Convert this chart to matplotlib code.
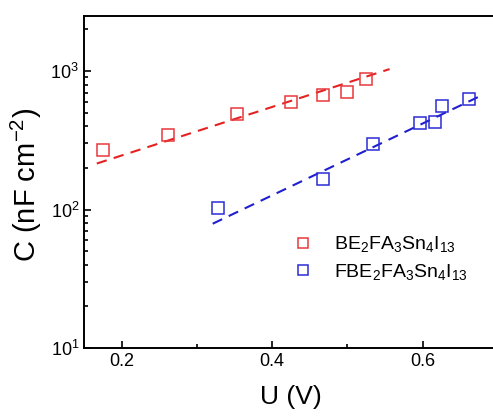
import matplotlib.pyplot as plt
from matplotlib.ticker import LogLocator, MultipleLocator, NullFormatter

plt.rcParams['font.family'] = ['Liberation Sans', 'DejaVu Sans']
plt.rcParams['mathtext.fontset'] = 'custom'
plt.rcParams['mathtext.rm'] = 'Liberation Sans'
plt.rcParams['mathtext.it'] = 'Liberation Sans'

# データ
u_be = [0.175, 0.262, 0.353, 0.425, 0.468, 0.499, 0.524]
c_be = [268, 344, 487, 596, 670, 705, 875]
fit_u_be = [0.167, 0.556]
fit_c_be = [215, 1034]

u_fbe = [0.328, 0.467, 0.534, 0.596, 0.616, 0.625, 0.662]
c_fbe = [102, 165, 296, 420, 426, 557, 627]
fit_u_fbe = [0.321, 0.676]
fit_c_fbe = [79, 659]

red = '#e8383c'
blue = '#2b2bd6'

fig = plt.figure(figsize=(4.93, 4.19), dpi=100)
ax = fig.add_axes([0.1704, 0.1695, 0.8397, 0.7923])

ax.plot(fit_u_be, fit_c_be, '--', color='#e52222', lw=1.5, dashes=(5, 3.5))
ax.plot(fit_u_fbe, fit_c_fbe, '--', color='#1f1fcf', lw=1.5, dashes=(5, 3.5))
ax.plot(u_be, c_be, 's', mfc='none', mec=red, ms=9, mew=1.1,
        label=r'BE$_2$FA$_3$Sn$_4$I$_{13}$')
ax.plot(u_fbe, c_fbe, 's', mfc='none', mec=blue, ms=9, mew=1.1,
        label=r'FBE$_2$FA$_3$Sn$_4$I$_{13}$')

ax.set_yscale('log')
ax.set_xlim(0.15, 0.7)
ax.set_ylim(10, 2500)
ax.xaxis.set_major_locator(MultipleLocator(0.2))
ax.xaxis.set_minor_locator(MultipleLocator(0.1))
ax.yaxis.set_major_locator(LogLocator(base=10, numticks=10))
ax.yaxis.set_minor_locator(LogLocator(base=10, subs=range(2, 10), numticks=10))
ax.yaxis.set_minor_formatter(NullFormatter())

ax.tick_params(which='both', direction='in', labelsize=13, width=1.2)
ax.tick_params(which='major', length=5)
ax.tick_params(which='minor', length=3)
for s in ax.spines.values():
    s.set_linewidth(1.4)

ax.set_xlabel('U (V)', fontsize=19)
ax.set_ylabel(r'C (nF cm$^{-2}$)', fontsize=21)
ax.xaxis.set_label_coords(0.5, -0.111)
ax.yaxis.set_label_coords(-0.096, 0.49)

ax.legend(loc='upper left', bbox_to_anchor=(0.44, 0.395), frameon=False,
          fontsize=14, handletextpad=0.6, labelspacing=0.4, markerscale=0.85)

fig.savefig('out.png', dpi=100)
